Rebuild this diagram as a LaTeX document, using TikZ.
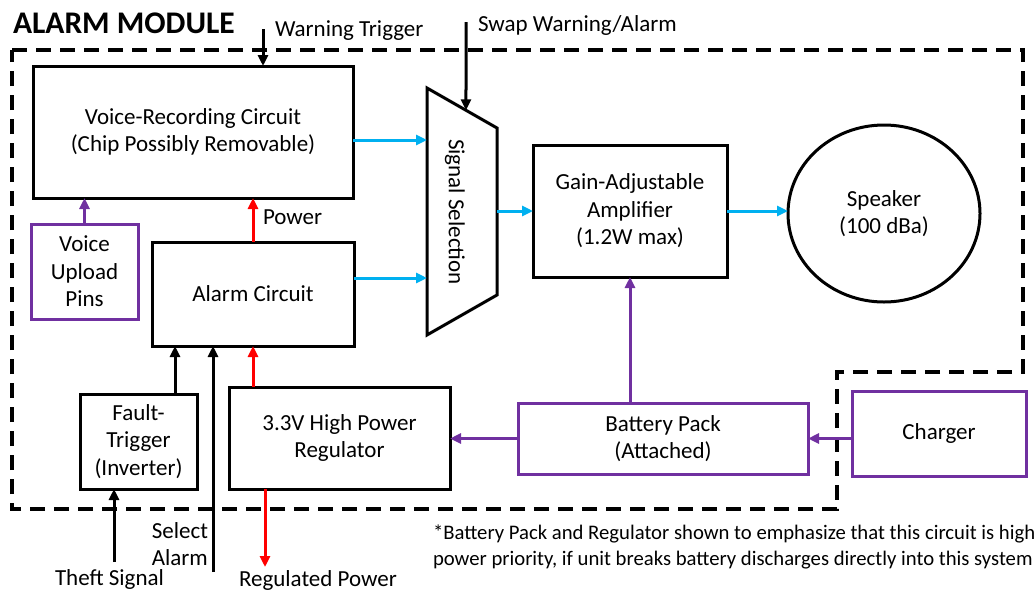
\documentclass[tikz,border=0pt]{standalone}
\usepackage{fontspec}
\setmainfont{Carlito}
\usetikzlibrary{arrows.meta,shapes.geometric,calc}
\definecolor{cblue}{RGB}{0,176,240}
\definecolor{cred}{RGB}{255,0,0}
\definecolor{cpurple}{RGB}{112,48,160}
\begin{document}
\begin{tikzpicture}[x=1pt,y=-1pt,
  every node/.style={font=\fontsize{23}{27.5}\selectfont, inner sep=0pt, outer sep=0pt},
  box/.style={draw, line width=3pt, align=center},
  pbox/.style={draw=cpurple, line width=3pt, align=center},
  arr/.style={line width=3pt, -{Triangle[length=11pt,width=10pt]}},
  barr/.style={arr, draw=black},
  blarr/.style={arr, draw=cblue},
  rarr/.style={arr, draw=cred},
  parr/.style={arr, draw=cpurple},
  border/.style={line width=4pt, dash pattern=on 15pt off 9pt}
]
\useasboundingbox (0,0) rectangle (1035,592);

% module border
\draw[border] (12,50) -- (1023,50) -- (1023,372) -- (837,372) -- (837,509) -- (12,509) -- cycle;

% title
\node[anchor=base west, font=\fontsize{31.5}{36}\selectfont\bfseries] (title) at (13,33) {ALARM MODULE};

% boxes
\node[box, minimum width=320, minimum height=132] (voice) at (193,132) {Voice-Recording Circuit\\(Chip Possibly Removable)};
\node[pbox, minimum width=107, minimum height=95] (pins) at (84.5,271.5) {Voice\\Upload\\Pins};
\node[box, minimum width=202, minimum height=104] (alarm) at (253,294) {Alarm Circuit};
\node[box, minimum width=117, minimum height=95] (fault) at (138.5,441.5) {Fault-\\Trigger\\(Inverter)};
\node[box, minimum width=221, minimum height=102] (reg) at (339.5,438) {3.3V High Power\\Regulator};
\node[pbox, minimum width=290, minimum height=71] (bat) at (663,438.5) {Battery Pack\\(Attached)};
\node[pbox, minimum width=174, minimum height=85] (chg) at (939,433.5) {Charger};
\node[box, minimum width=194, minimum height=132] (amp) at (630,211) {Gain-Adjustable\\Amplifier\\(1.2W max)};
\node[draw, ellipse, line width=3pt, minimum width=192, minimum height=177, align=center] (spk) at (884,213.5) {Speaker\\(100 dBa)};

% signal selection trapezoid
\draw[line width=3pt] (427,88) coordinate (tl) -- (497,128) coordinate (tr) -- (497,295) coordinate (br) -- (427,335) coordinate (bl) -- cycle;
\node[rotate=-90] (sel) at (455,212) {Signal Selection};

% external inputs
\coordinate (wt) at (263,29);
\draw[barr] (wt) -- (wt |- voice.north);
\node[anchor=base west] (wtl) at (275,36) {Warning Trigger};

\coordinate (sw) at (466,22);
\draw[barr] (sw) -- ($(tl)!0.557!(tr)$);
\node[anchor=base west] (swl) at (478,31) {Swap Warning/Alarm};

% signal paths
\draw[blarr] ([yshift=-8pt]voice.east) -- ([yshift=-8pt]voice.east -| tl);
\draw[blarr] ([yshift=16pt]alarm.east) -- ([yshift=16pt]alarm.east -| tl);
\draw[blarr] (tr |- amp.west) -- (amp.west);
\draw[blarr] (amp.east) -- (amp.east -| spk.west);

% voice upload
\draw[parr] (pins.north) -- (pins.north |- voice.south);

% power
\draw[rarr] (alarm.north) -- (alarm.north |- voice.south);
\node[anchor=base west] (pwl) at (263,224) {Power};
\draw[rarr] (alarm.south |- reg.north) -- (alarm.south);

% fault trigger / select
\draw[barr] ([xshift=-22pt]fault.north east) -- ([xshift=-22pt]fault.north east |- alarm.south);
\coordinate (sa) at (213,572);
\draw[barr] (sa) -- (sa |- alarm.south);
\node[anchor=east, align=left] (sal) at (208,544) {Select\\Alarm};

\coordinate (th) at (114,562);
\draw[barr] (th) -- (th |- fault.south);
\node[anchor=base west] (thl) at (55,585) {Theft Signal};

\coordinate (rp) at (265,567);
\draw[rarr] (rp |- reg.south) -- (rp);
\node[anchor=base west] (rpl) at (239,586) {Regulated Power};

% battery connections
\draw[parr] (amp.south |- bat.north) -- (amp.south);
\draw[parr] (bat.west) -- (bat.west -| reg.east);
\draw[parr] (bat.east -| chg.west) -- (bat.east);

% footnote
\node[anchor=west, align=left, font=\fontsize{20.7}{26.5}\selectfont] (note) at (433,547) {*Battery Pack and Regulator shown to emphasize that this circuit is high\\power priority, if unit breaks battery discharges directly into this system};
\end{tikzpicture}
\end{document}
